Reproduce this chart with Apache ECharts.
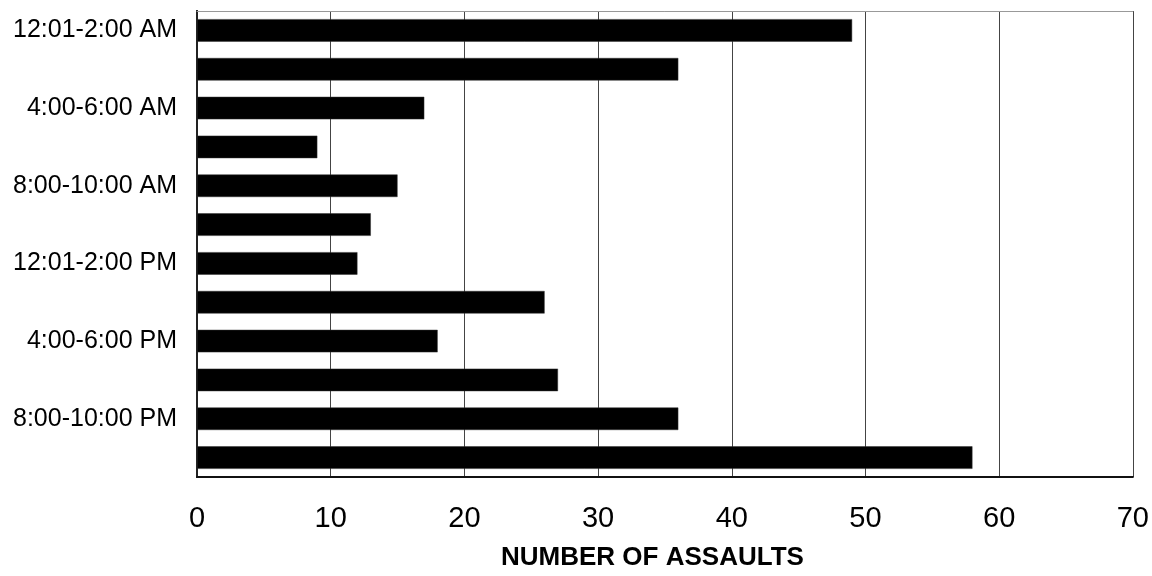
<!DOCTYPE html>
<html>
<head>
<meta charset="utf-8">
<script src="https://cdn.jsdelivr.net/npm/echarts@6/dist/echarts.min.js"></script>
<style>html,body{margin:0;padding:0;background:#fff}#c{width:1152px;height:576px}</style>
</head>
<body>
<div id="c"></div>
<script>
const categories = ["12:01-2:00 AM","2:00-4:00 AM","4:00-6:00 AM","6:00-8:00 AM","8:00-10:00 AM","10:00-12:00 PM","12:01-2:00 PM","2:00-4:00 PM","4:00-6:00 PM","6:00-8:00 PM","8:00-10:00 PM","10:00-12:00 AM"];
const assaults = [49, 36, 17, 9, 15, 13, 12, 26, 18, 27, 36, 58];
const xMin = 0, xMax = 70, xStep = 10;
const xTitle = "NUMBER OF ASSAULTS";

const FONT = "Arial, 'Liberation Sans', sans-serif";
const chart = echarts.init(document.getElementById('c'), null, {renderer: 'canvas'});
chart.setOption({
  animation: false,
  backgroundColor: '#fff',
  grid: {left: 197, right: 19, top: 11, bottom: 95, containLabel: false},
  xAxis: [{
    type: 'value', min: xMin, max: xMax, interval: xStep, position: 'bottom',
    axisLine: {show: true, lineStyle: {color: '#111', width: 2}},
    axisTick: {show: false},
    axisLabel: {color: '#000', fontSize: 29, fontFamily: FONT, margin: 27},
    splitLine: {show: true, lineStyle: {color: '#444', width: 1}},
    name: xTitle, nameLocation: 'middle', nameGap: 68,
    nameTextStyle: {color: '#000', fontSize: 26, fontWeight: 'bold', fontFamily: FONT, padding: [0, 25, 0, 0]}
  }, {
    type: 'value', min: xMin, max: xMax, interval: xStep, position: 'top',
    axisLine: {show: true, lineStyle: {color: '#999', width: 1}},
    axisTick: {show: false}, axisLabel: {show: false}, splitLine: {show: false}
  }],
  yAxis: [{
    type: 'category', data: categories, inverse: true, position: 'left',
    axisLine: {show: true, lineStyle: {color: '#000', width: 2}},
    axisTick: {show: false},
    axisLabel: {interval: 1, color: '#000', fontSize: 25, fontFamily: FONT, margin: 20},
    splitLine: {show: false}
  }, {
    type: 'category', data: categories, inverse: true, position: 'right',
    axisLine: {show: true, lineStyle: {color: '#222', width: 2}},
    axisTick: {show: false}, axisLabel: {show: false}, splitLine: {show: false}
  }],
  series: [{
    type: 'bar', data: assaults, xAxisIndex: 0, yAxisIndex: 0,
    barWidth: '58%',
    itemStyle: {color: '#000', borderColor: '#333', borderWidth: 0.5}
  }]
});
</script>
</body>
</html>
